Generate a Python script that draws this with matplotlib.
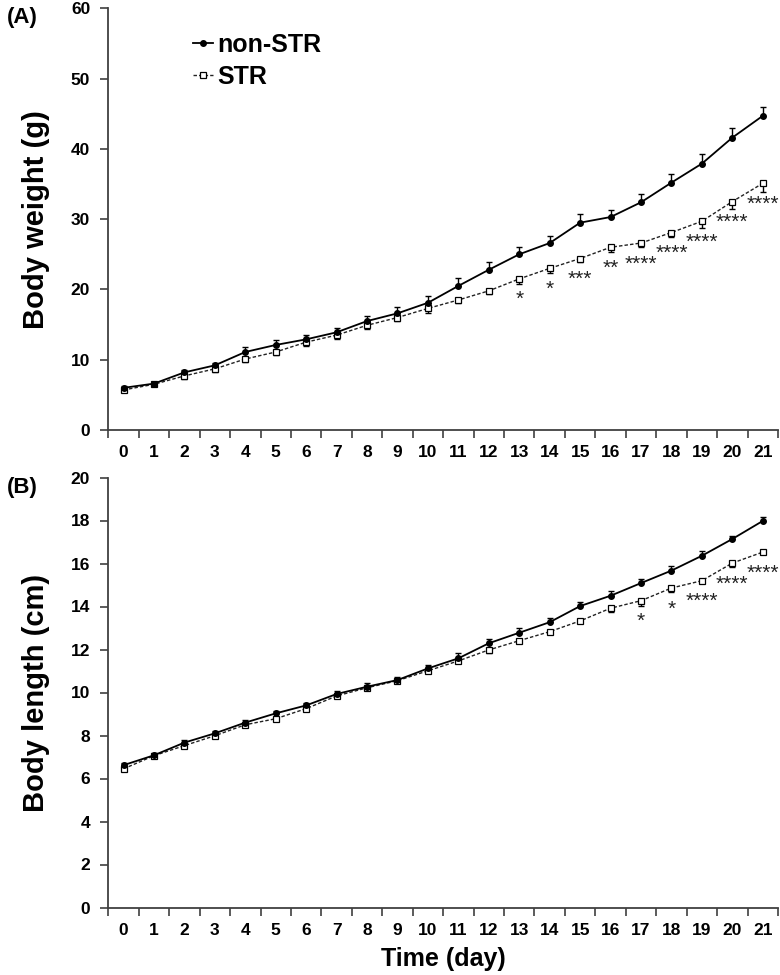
import matplotlib
matplotlib.use("Agg")
import matplotlib.pyplot as plt
import numpy as np

plt.rcParams['font.family'] = ['Liberation Sans', 'DejaVu Sans']

days = list(range(22))
day_labels = [str(d) for d in days]

# (A) body weight (g)
weight_non = [6.0, 6.6, 8.2, 9.2, 11.1, 12.1, 12.9, 13.9, 15.5, 16.6, 18.1, 20.5,
              22.8, 25.0, 26.6, 29.5, 30.3, 32.4, 35.2, 37.9, 41.6, 44.7]
weight_non_err = [0.3, 0.3, 0.4, 0.4, 0.7, 0.7, 0.6, 0.6, 0.7, 0.9, 0.95, 1.1,
                  1.15, 1.05, 1.05, 1.2, 1.05, 1.2, 1.2, 1.3, 1.3, 1.2]
weight_str = [5.7, 6.5, 7.7, 8.7, 10.1, 11.1, 12.5, 13.5, 14.9, 16.0, 17.3, 18.5,
              19.8, 21.5, 23.0, 24.4, 26.0, 26.6, 28.1, 29.7, 32.5, 35.1]
weight_str_err = [0.3, 0.3, 0.4, 0.4, 0.4, 0.4, 0.5, 0.6, 0.5, 0.5, 0.6, 0.5,
                  0.5, 0.7, 0.7, 0.5, 0.7, 0.6, 0.6, 0.9, 1.1, 1.25]
weight_sig = [""] * 13 + ["*", "*", "***", "**", "****", "****", "****", "****", "****"]

# (B) body length (cm)
length_non = [6.62, 7.08, 7.67, 8.10, 8.60, 9.03, 9.40, 9.93, 10.27, 10.58, 11.12, 11.59,
              12.29, 12.78, 13.27, 14.02, 14.50, 15.09, 15.67, 16.36, 17.14, 17.98]
length_non_err = [0.1, 0.1, 0.1, 0.1, 0.1, 0.1, 0.12, 0.12, 0.15, 0.12, 0.15, 0.25,
                  0.2, 0.2, 0.18, 0.2, 0.2, 0.2, 0.2, 0.2, 0.15, 0.2]
length_str = [6.45, 7.06, 7.53, 7.99, 8.50, 8.78, 9.25, 9.84, 10.22, 10.55, 11.01, 11.47,
              11.98, 12.41, 12.83, 13.33, 13.92, 14.27, 14.86, 15.20, 16.02, 16.53]
length_str_err = [0.1, 0.1, 0.1, 0.1, 0.1, 0.1, 0.12, 0.1, 0.1, 0.1, 0.1, 0.1,
                  0.15, 0.12, 0.12, 0.1, 0.18, 0.25, 0.17, 0.1, 0.19, 0.1]
length_sig = [""] * 17 + ["*", "*", "****", "****", "****"]

SPINE = "#404040"
W, H = 780, 975


def draw_panel(ax, non, non_err, strv, str_err, sig, ymax, ystep):
    x = np.array(days)
    non = np.array(non)
    strv = np.array(strv)
    # error bars: non-STR upward, STR downward
    ax.vlines(x, non, non + np.array(non_err), color="black", lw=1.0, zorder=2)
    ax.plot(x, non + np.array(non_err), "_", color="black", ms=5, mew=1.0, zorder=2)
    ax.vlines(x, strv - np.array(str_err), strv, color="black", lw=1.0, zorder=2)
    ax.plot(x, strv - np.array(str_err), "_", color="black", ms=5, mew=1.0, zorder=2)

    ax.plot(x, non, "-", color="black", lw=1.3, marker="o", ms=4, mfc="black",
            mec="black", label="non-STR", zorder=4)
    ax.plot(x, strv, color="#222222", lw=1.0, linestyle=(0, (2.5, 1.5)), marker="s",
            ms=4.5, mfc="white", mec="black", mew=0.9, label="STR", zorder=3)

    for xi, yi, s in zip(x, strv, sig):
        if s:
            ax.annotate(s, (xi, yi), textcoords="offset points", xytext=(0, -19),
                        ha="center", va="baseline", fontsize=15, color="#222222")

    ax.set_xlim(-0.5, 21.5)
    ax.set_ylim(0, ymax)
    ax.set_yticks(np.arange(0, ymax + 0.1, ystep))
    ax.set_xticks(x)
    ax.set_xticklabels(day_labels)
    ax.set_xticks(np.arange(-0.5, 22, 1), minor=True)
    ax.tick_params(axis="x", which="major", length=0, pad=11, labelsize=12.5)
    ax.tick_params(axis="x", which="minor", length=6, width=1.2, color=SPINE)
    ax.tick_params(axis="y", length=6, width=1.2, color=SPINE, pad=7, labelsize=12.5)
    for lab in ax.get_xticklabels() + ax.get_yticklabels():
        lab.set_fontweight("bold")
    for side in ("top", "right"):
        ax.spines[side].set_visible(False)
    for side in ("left", "bottom"):
        ax.spines[side].set_color(SPINE)
        ax.spines[side].set_linewidth(1.3)


fig = plt.figure(figsize=(7.8, 9.75), dpi=100)
left, right = 108.3 / W, 778 / W
ax1 = fig.add_axes([left, 1 - 430 / H, right - left, (430 - 8.3) / H])
ax2 = fig.add_axes([left, 1 - 907.5 / H, right - left, (907.5 - 477.5) / H])

draw_panel(ax1, weight_non, weight_non_err, weight_str, weight_str_err, weight_sig, 60, 10)
draw_panel(ax2, length_non, length_non_err, length_str, length_str_err, length_sig, 20, 2)

label_x = (36 - 108.3) / (778 - 108.3)
ax1.set_ylabel("Body weight (g)", fontsize=21, fontweight="bold", va="center")
ax1.yaxis.set_label_coords(label_x, 0.5)
ax2.set_ylabel("Body length (cm)", fontsize=21, fontweight="bold", va="center")
ax2.yaxis.set_label_coords(label_x, 0.5)
ax2.set_xlabel("Time (day)", fontsize=18, fontweight="bold", va="center")
ax2.xaxis.set_label_coords(0.5, -(959 - 907.5) / (907.5 - 477.5))

fig.text(7 / W, 1 - 17 / H, "(A)", fontsize=16, fontweight="bold", ha="left", va="center")
fig.text(7 / W, 1 - 488 / H, "(B)", fontsize=16, fontweight="bold", ha="left", va="center")

ax1.legend(loc="upper left", bbox_to_anchor=(193 / W, 1 - 33 / H), bbox_transform=fig.transFigure,
           frameon=False, prop={"weight": "bold", "size": 18}, handlelength=0.8,
           handletextpad=0.16, borderpad=0, borderaxespad=0, labelspacing=0.31, numpoints=1)

fig.savefig("out.png", dpi=100)
